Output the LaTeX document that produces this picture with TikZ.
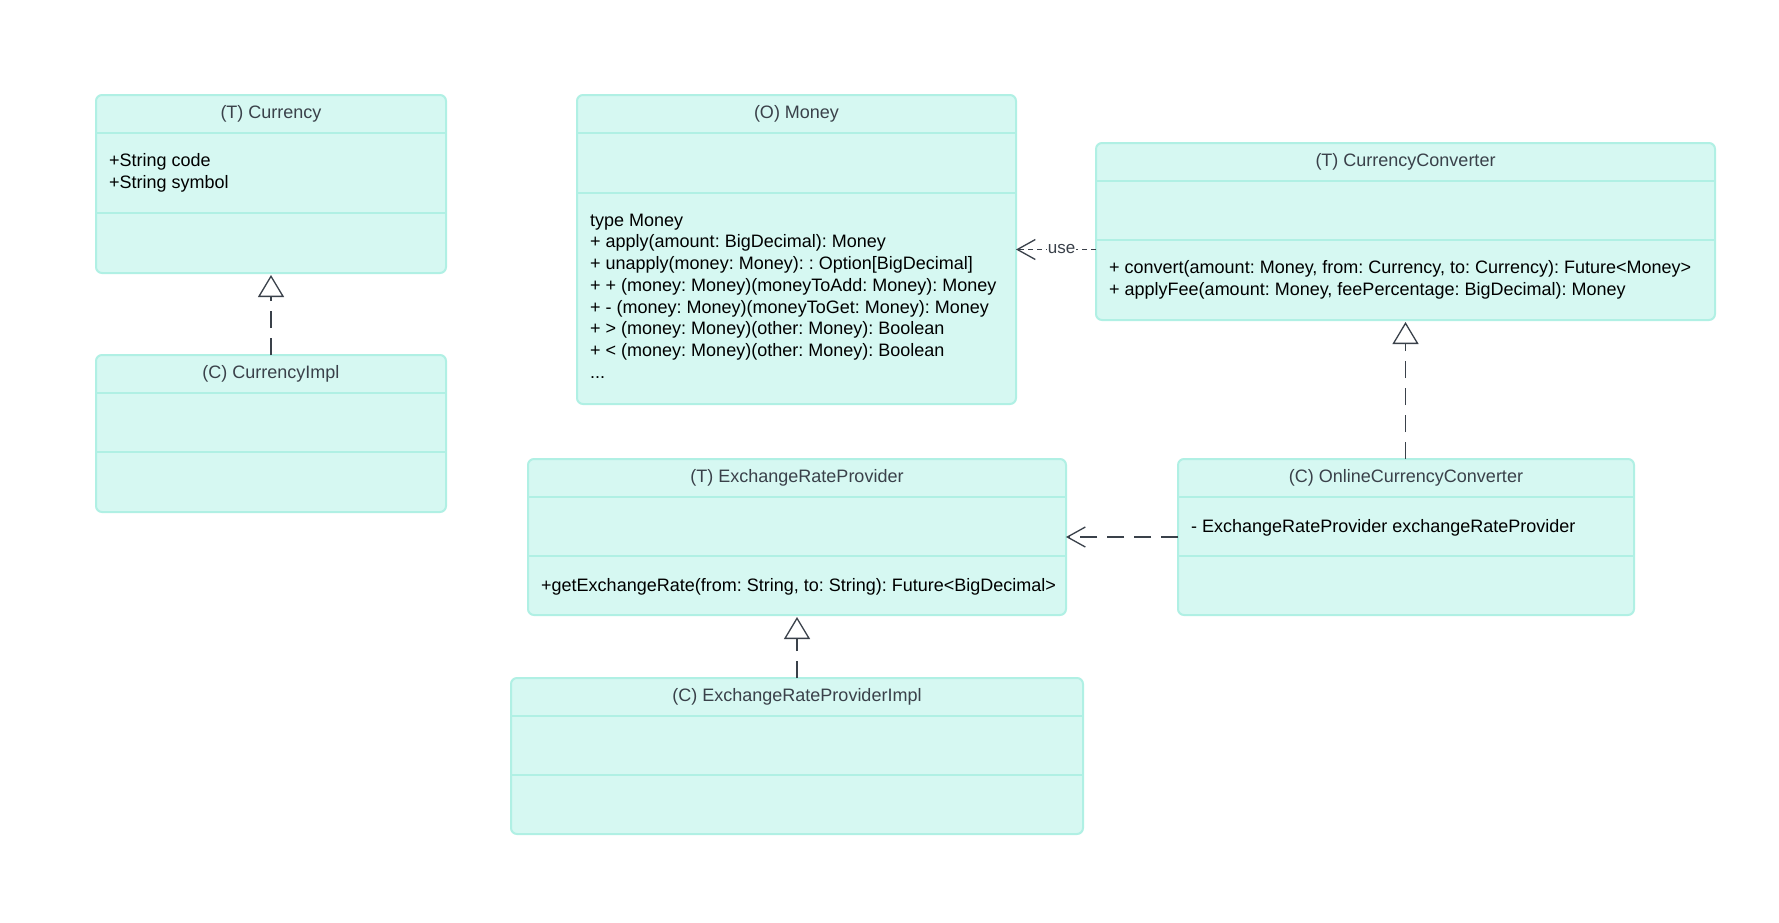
\documentclass[tikz,border=0pt]{standalone}
\usepackage{fontspec}
\setmainfont{Liberation Sans}
\usetikzlibrary{arrows.meta,calc}
\definecolor{boxfill}{RGB}{214,248,242}
\definecolor{boxline}{RGB}{176,240,228}
\definecolor{titlegray}{RGB}{58,65,74}
\definecolor{linkgray}{RGB}{58,65,74}
\tikzset{
 classbox/.style={draw=boxline, fill=boxfill, line width=2pt, rounded corners=6pt, inner sep=0pt, outer sep=0pt},
 sepline/.style={draw=boxline, line width=2pt},
 titletext/.style={text=titlegray, font=\fontsize{18pt}{21.7pt}\selectfont\frenchspacing, inner sep=0pt},
 bodytext/.style={text=black, font=\fontsize{18pt}{21.7pt}\selectfont\frenchspacing, inner sep=0pt, align=left, anchor=north west},
 realize/.style={draw=linkgray, line width=1.3pt, dash pattern=on 17pt off 10pt, -{Triangle[length=22pt, width=26pt, fill=white]}, shorten >=2pt},
 depend/.style={draw=linkgray, line width=1.3pt, dash pattern=on 17pt off 10pt, -{Straight Barb[length=18pt, width=20pt]}},
 shortdash/.style={dash pattern=on 5pt off 4pt},
 linklabel/.style={text=titlegray, font=\fontsize{17pt}{20pt}\selectfont, fill=white, inner sep=1pt},
}
\newcommand\umlclass[8]{%
 \node[classbox, anchor=north west, minimum width=#4pt, minimum height=#5pt+#6pt+#7pt] (#1) at (#2,#3) {};
 \draw[sepline] ([yshift=-#5pt]#1.north west) -- ([yshift=-#5pt]#1.north east);
 \draw[sepline] ([yshift=-#5pt-#6pt]#1.north west) -- ([yshift=-#5pt-#6pt]#1.north east);
 \node[titletext] (#1-title) at ([yshift=-#5pt/2]#1.north) {#8};
}
\begin{document}
\frenchspacing
\begin{tikzpicture}[x=1pt,y=-1pt]
\fill[white] (0,0) rectangle (1779,922);
\useasboundingbox (0,0) rectangle (1779,922);

\umlclass{cur}{96}{95}{350}{38}{80}{60}{(T) Currency}
\umlclass{curimpl}{96}{355}{350}{38}{59}{60}{(C) CurrencyImpl}
\umlclass{money}{577}{95}{439}{38}{60}{211}{(O) Money}
\umlclass{cc}{1096}{143}{619}{38}{59}{80}{(T) CurrencyConverter}
\umlclass{erp}{528}{459}{538}{38}{59}{59}{(T) ExchangeRateProvider}
\umlclass{online}{1178}{459}{456}{38}{59}{59}{(C) OnlineCurrencyConverter}
\umlclass{erpimpl}{511}{678}{572}{38}{59}{59}{(C) ExchangeRateProviderImpl}

\node[bodytext] (cur-attr) at (109,151.5) {\strut+String code\\+String symbol};
\node[bodytext] (money-ops) at (590,210.8) {\strut type Money\\
+ apply(amount: BigDecimal): Money\\
+ unapply(money: Money): : Option[BigDecimal]\\
+ + (money: Money)(moneyToAdd: Money): Money\\
+ - (money: Money)(moneyToGet: Money): Money\\
+ > (money: Money)(other: Money): Boolean\\
+ < (money: Money)(other: Money): Boolean\\
...};
\node[bodytext] (cc-ops) at (1109,258.3) {\strut+ convert(amount: Money, from: Currency, to: Currency): Future<Money>\\
+ applyFee(amount: Money, feePercentage: BigDecimal): Money};
\node[bodytext] (erp-ops) at (541,576.3) {\strut+getExchangeRate(from: String, to: String): Future<BigDecimal>};
\node[bodytext] (online-attr) at (1191,516.8) {\strut- ExchangeRateProvider exchangeRateProvider};

\draw[realize] (curimpl.north) -- (cur.south);
\draw[realize] (cc.south |- online.north) -- (cc.south);
\draw[realize] (erpimpl.north) -- (erp.south);
\draw[depend] (online.west) -- (erp.east);
\draw[depend, shortdash] (money.east -| cc.west) -- node[linklabel, pos=0.43] (uselabel) {use} (money.east);
\end{tikzpicture}
\end{document}
